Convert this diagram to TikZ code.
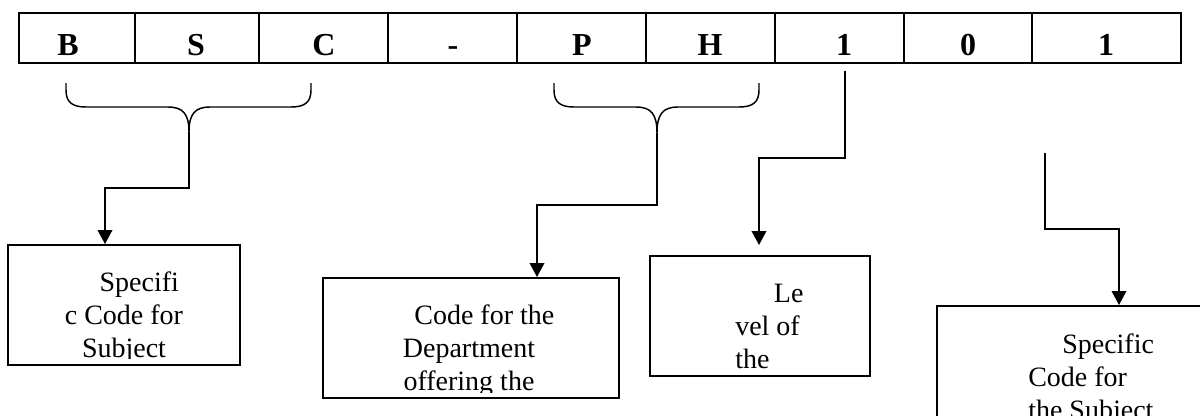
\documentclass[tikz,border=0pt]{standalone}
\usepackage{fontspec}
\setmainfont{Liberation Serif}
\usetikzlibrary{arrows.meta,calc}
\begin{document}
\begin{tikzpicture}[x=0.75pt,y=-0.75pt,
  grid/.style={line width=1.5pt},
  letter/.style={font=\fontsize{24}{28}\selectfont\bfseries, anchor=base, inner sep=0pt},
  conn/.style={line width=1.1pt},
  arr/.style={conn,-{Triangle[width=11pt,length=10.5pt]}},
  brace/.style={line width=1.1pt},
  infobox/.style={draw, line width=1.2pt, anchor=north west, inner sep=0pt, minimum height=90pt},
  txt/.style={font=\fontsize{21}{24.75}\selectfont, inner sep=0pt}
]
\clip (0,0) rectangle (1200,415);
\fill[white] (0,0) rectangle (1200,415);
% code table
\draw[grid] (19,13) rectangle (1181,63);
\foreach \x in {135,259,388,517,646,775,904,1032} \draw[grid] (\x,13) -- (\x,63);
\node[letter] (l1) at (68,55) {B};
\node[letter] (l2) at (196,55) {S};
\node[letter] (l3) at (324,55) {C};
\node[letter] (l4) at (453,55) {-};
\node[letter] (l5) at (582,55) {P};
\node[letter] (l6) at (710,55) {H};
\node[letter] (l7) at (844,55) {1};
\node[letter] (l8) at (968,55) {0};
\node[letter] (l9) at (1106,55) {1};
% braces
\draw[brace] (66,83) -- (66,90) .. controls (66,102) and (72,107) .. (86,107) -- (168,107)
  .. controls (183,107) and (189,114) .. (189,132) .. controls (189,114) and (195,107) .. (210,107)
  -- (291,107) .. controls (305,107) and (311,102) .. (311,90) -- (311,83);
\draw[brace] (554,83) -- (554,90) .. controls (554,102) and (560,107) .. (574,107) -- (636,107)
  .. controls (651,107) and (657,114) .. (657,133) .. controls (657,114) and (663,107) .. (678,107)
  -- (739,107) .. controls (753,107) and (759,102) .. (759,90) -- (759,83);
\coordinate (br1) at (189,132);
\coordinate (br2) at (657,133);
\coordinate (s3) at (845,71);
\coordinate (s4) at (1045,153);
% boxes
\node[infobox, minimum width=174pt] (b1) at (7,244) {};
\node[infobox, minimum width=222pt] (b2) at (322,277) {};
\node[infobox, minimum width=165pt] (b3) at (649,255) {};
\node[infobox, minimum width=274.5pt] (b4) at (936,305) {};
% texts (clipped like the text boxes); base anchor = last line
\begin{scope}
  \clip (7,244) rectangle (239,358);
  \node[txt, align=center, anchor=base] (t1) at (124,357) {\hspace*{23pt}Specifi\\c Code for\\Subject};
\end{scope}
\begin{scope}
  \clip (322,277) rectangle (618,392);
  \node[txt, align=center, anchor=base] (t2) at (469,390) {\hspace*{23pt}Code for the\\Department\\offering the};
\end{scope}
\begin{scope}
  \clip (649,255) rectangle (869,371);
  \node[txt, align=left, anchor=base west] (t3) at (735,368) {\hspace*{29pt}Le\\vel of\\the};
\end{scope}
\node[txt, align=left, anchor=base west] (t4) at (1028,419) {\hspace*{25.5pt}Specific\\Code for\\the Subject};
% connectors
\coordinate (e1) at (105,188);
\coordinate (e2) at (537,205);
\coordinate (e3) at (759,158);
\coordinate (e4) at (1119,229);
\draw[arr] (br1) |- (e1) -- (e1 |- b1.north);
\draw[arr] (br2) |- (e2) -- (e2 |- b2.north);
\draw[arr, shorten >=7.5pt] (s3) |- (e3) -- (e3 |- b3.north);
\draw[arr] (s4) |- (e4) -- (e4 |- b4.north);
\end{tikzpicture}
\end{document}
